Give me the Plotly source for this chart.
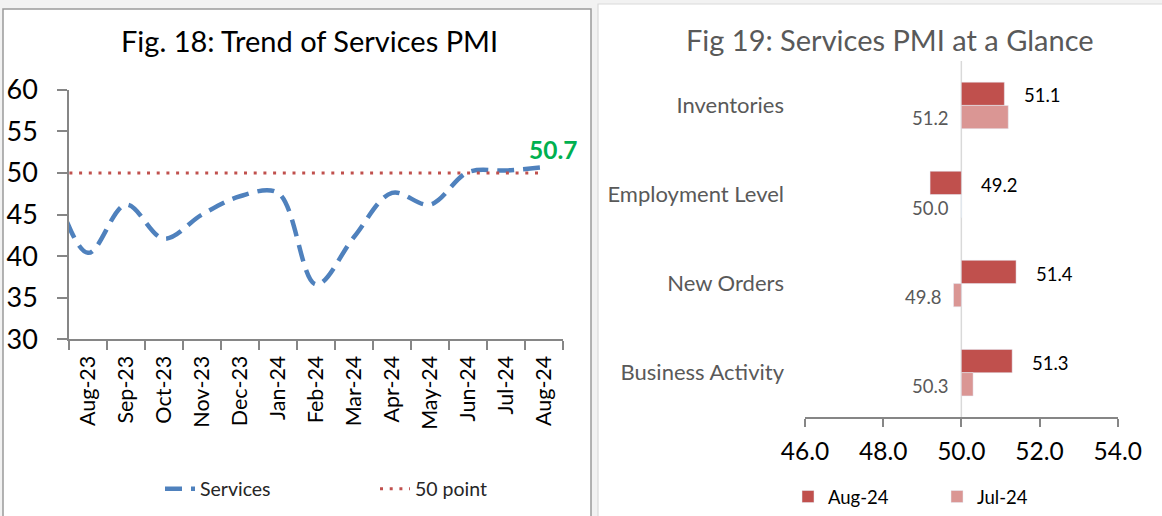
import plotly.graph_objects as go

# ---------------- data ----------------
months = ["Jul-23", "Aug-23", "Sep-23", "Oct-23", "Nov-23", "Dec-23", "Jan-24",
          "Feb-24", "Mar-24", "Apr-24", "May-24", "Jun-24", "Jul-24", "Aug-24"]
services = [50.0, 40.4, 46.2, 42.1, 45.0, 47.2, 47.6, 36.6, 42.3, 47.6, 46.2, 50.1, 50.3, 50.7]
threshold = [50] * len(months)

components = ["Inventories", "Employment Level", "New Orders", "Business Activity"]
aug24 = [51.1, 49.2, 51.4, 51.3]
jul24 = [51.2, 50.0, 49.8, 50.3]
base_level = 50.0

W, H = 1162, 516
FONT = "Lato"
BLUE = "#4F81BD"
RED = "#C0504D"
PINK = "#DA9694"
GREEN = "#00B050"
AX = "#868686"


def px(x):
    return x / W


def py(y):
    return 1 - y / H


fig = go.Figure()

# ---------------- left chart: trend ----------------
fig.add_trace(go.Scatter(
    x=months, y=services, name="Services", mode="lines",
    line=dict(color=BLUE, width=4.5, dash="17px,9px", shape="spline", smoothing=1),
    xaxis="x", yaxis="y", legend="legend",
))
fig.add_trace(go.Scatter(
    x=months, y=threshold, name="50 point", mode="lines",
    line=dict(color=RED, width=3, dash="3px,6.7px"),
    xaxis="x", yaxis="y", legend="legend",
))

# ---------------- right chart: bars ----------------
fig.add_trace(go.Bar(
    y=components, x=[v - base_level for v in aug24], base=base_level,
    orientation="h", name="Aug-24", marker=dict(color=RED),
    xaxis="x2", yaxis="y2", legend="legend2",
))
fig.add_trace(go.Bar(
    y=components, x=[v - base_level for v in jul24], base=base_level,
    orientation="h", name="Jul-24", marker=dict(color=PINK),
    xaxis="x2", yaxis="y2", legend="legend2",
))

annotations = []
# last value label
annotations.append(dict(
    x=months[-1], y=services[-1], xref="x", yref="y", text=f"<b>{services[-1]:.1f}</b>",
    showarrow=False, xshift=9, yshift=18, font=dict(family=FONT, size=24.5, color=GREEN),
))
# bar labels
for c, a, j in zip(components, aug24, jul24):
    annotations.append(dict(
        x=max(a, base_level), y=c, xref="x2", yref="y2", text=f"{a:.1f}",
        showarrow=False, xanchor="left", xshift=18, yshift=10,
        font=dict(family=FONT, size=18.5, color="#000000"),
    ))
    annotations.append(dict(
        x=min(j, base_level), y=c, xref="x2", yref="y2", text=f"{j:.1f}",
        showarrow=False, xanchor="right", xshift=-10, yshift=-13,
        font=dict(family=FONT, size=18.5, color="#595959"),
    ))
# titles
annotations.append(dict(
    x=px(309), y=py(41), xref="paper", yref="paper", text="Fig. 18: Trend of Services PMI",
    showarrow=False, xanchor="center", yanchor="middle",
    font=dict(family=FONT, size=29, color="#000000"),
))
annotations.append(dict(
    x=px(890), y=py(40), xref="paper", yref="paper", text="Fig 19: Services PMI at a Glance",
    showarrow=False, xanchor="center", yanchor="middle",
    font=dict(family=FONT, size=29, color="#595959"),
))

shapes = [
    # panels
    dict(type="rect", xref="paper", yref="paper", x0=px(3), x1=px(591), y0=py(530), y1=py(9),
         fillcolor="white", line=dict(color="#9a9a9a", width=1.5), layer="below"),
    dict(type="rect", xref="paper", yref="paper", x0=px(598), x1=px(1175), y0=py(530), y1=py(4),
         fillcolor="white", line=dict(color="#d9d9d9", width=1.2), layer="below"),
    # category axis crossing at 50
    dict(type="line", xref="x2", yref="y2 domain", x0=base_level, x1=base_level, y0=0, y1=1,
         line=dict(color="#d9d9d9", width=1.5), layer="below"),
]

fig.update_layout(
    width=W, height=H,
    margin=dict(l=0, r=0, t=0, b=0),
    paper_bgcolor="#f2f2f2",
    plot_bgcolor="rgba(0,0,0,0)",
    font=dict(family=FONT, color="#000000"),
    showlegend=True,
    barmode="group", bargap=0.478, bargroupgap=0,
    xaxis=dict(
        domain=[px(69), px(563)], anchor="y", type="category",
        categoryorder="array", categoryarray=months,
        range=[0.5, len(months) - 0.5], tickson="boundaries",
        showline=True, linecolor=AX, linewidth=1.5, ticks="outside", ticklen=9,
        tickcolor=AX, tickwidth=1.5, showgrid=False, zeroline=False,
        tickangle=-90, tickfont=dict(family=FONT, size=21.5, color="#000000"),
        ticklabelstandoff=6, automargin=False, fixedrange=True,
    ),
    yaxis=dict(
        domain=[py(340), py(90)], anchor="x", range=[30, 60], dtick=5,
        showline=True, linecolor=AX, linewidth=1.5, ticks="outside", ticklen=10,
        tickcolor=AX, tickwidth=1.5, showgrid=False, zeroline=False,
        tickfont=dict(family=FONT, size=27, color="#000000"),
        ticklabelstandoff=14, automargin=False, fixedrange=True,
    ),
    xaxis2=dict(
        domain=[px(805), px(1117.7)], anchor="y2", range=[46, 54], dtick=2,
        tickformat=".1f", showline=True, linecolor=AX, linewidth=1.5,
        ticks="outside", ticklen=8, tickcolor=AX, tickwidth=1.5,
        showgrid=False, zeroline=False,
        tickfont=dict(family=FONT, size=24.5, color="#000000"),
        ticklabelstandoff=4, automargin=False, fixedrange=True,
    ),
    yaxis2=dict(
        domain=[py(418), py(61)], anchor="x2", type="category",
        categoryorder="array", categoryarray=components,
        range=[len(components) - 0.5, -0.5],
        showline=False, ticks="", showgrid=False, zeroline=False,
        tickfont=dict(family=FONT, size=22, color="#595959"),
        ticklabelstandoff=20, automargin=False, fixedrange=True,
    ),
    legend=dict(
        orientation="h", x=px(160), y=py(489), xanchor="left", yanchor="middle",
        bgcolor="rgba(0,0,0,0)", font=dict(family=FONT, size=19.5, color="#262626"),
        entrywidth=170, entrywidthmode="pixels", itemclick=False, itemdoubleclick=False,
    ),
    legend2=dict(
        orientation="h", x=px(788), y=py(498), xanchor="left", yanchor="middle",
        bgcolor="rgba(0,0,0,0)", font=dict(family=FONT, size=18.5, color="#000000"),
        entrywidth=104, entrywidthmode="pixels", itemclick=False, itemdoubleclick=False,
    ),
    annotations=annotations,
    shapes=shapes,
)

fig.write_html(
    "out.html",
    config={"displayModeBar": False},
    post_script="document.body.style.margin='0';document.body.style.overflow='hidden';",
)
